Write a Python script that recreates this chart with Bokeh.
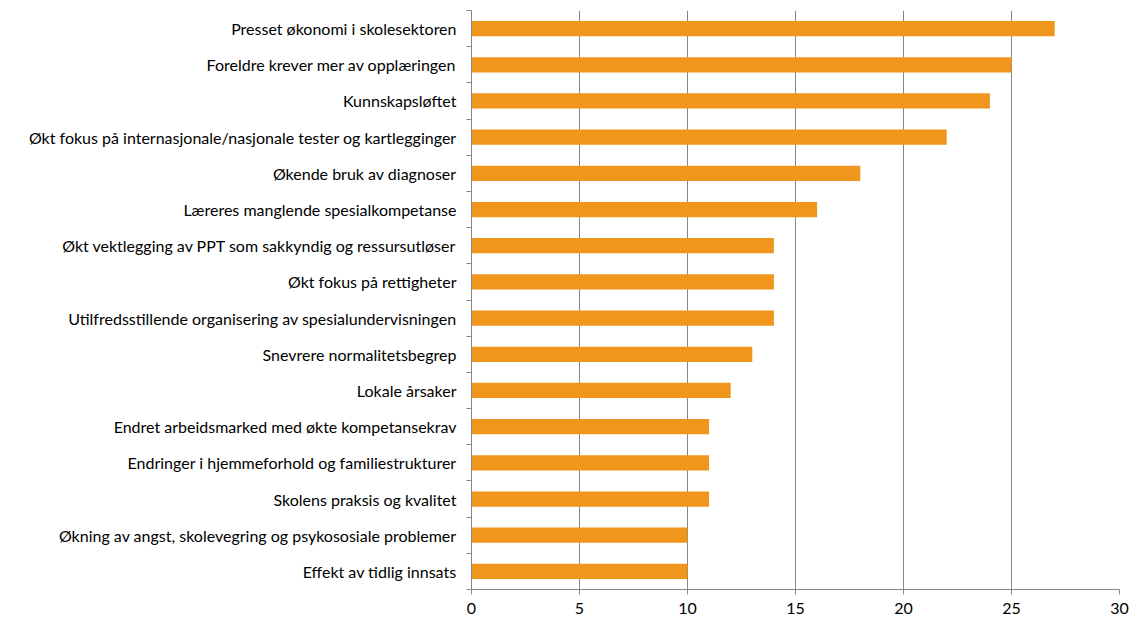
from bokeh.plotting import figure
from bokeh.models import FixedTicker, Range1d
from bokeh.embed import file_html
from bokeh.resources import INLINE

categories = [
    "Presset økonomi i skolesektoren",
    "Foreldre krever mer av opplæringen",
    "Kunnskapsløftet",
    "Økt fokus på internasjonale/nasjonale tester og kartlegginger",
    "Økende bruk av diagnoser",
    "Læreres manglende spesialkompetanse",
    "Økt vektlegging av PPT som sakkyndig og ressursutløser",
    "Økt fokus på rettigheter",
    "Utilfredsstillende organisering av spesialundervisningen",
    "Snevrere normalitetsbegrep",
    "Lokale årsaker",
    "Endret arbeidsmarked med økte kompetansekrav",
    "Endringer i hjemmeforhold og familiestrukturer",
    "Skolens praksis og kvalitet",
    "Økning av angst, skolevegring og psykososiale problemer",
    "Effekt av tidlig innsats",
]
values = [27, 25, 24, 22, 18, 16, 14, 14, 14, 13, 12, 11, 11, 11, 10, 10]
x_ticks = [0, 5, 10, 15, 20, 25, 30]

n = len(categories)
ypos = [n - i for i in range(n)]

p = figure(width=1131, height=620, output_backend="svg", toolbar_location=None,
           x_range=Range1d(0, 30), y_range=Range1d(0.5, n + 0.5),
           min_border_left=471, min_border_right=12, min_border_top=10, min_border_bottom=31)
p.outline_line_color = None
p.background_fill_color = "white"

p.hbar(y=ypos, right=values, left=0, height=0.42, color="#F0961D", line_color=None)

font = "Lato"
# x axis
p.xaxis.ticker = FixedTicker(ticks=x_ticks, minor_ticks=[])
p.xaxis.axis_line_color = "#878787"
p.xaxis.major_tick_line_color = "#878787"
p.xaxis.major_tick_out = 5
p.xaxis.major_tick_in = 0
p.xaxis.major_label_text_font = font
p.xaxis.major_label_text_font_size = "16px"
p.xaxis.major_label_text_color = "#000000"
p.xaxis.major_label_standoff = 8

# y axis
boundaries = [i + 0.5 for i in range(n + 1)]
p.yaxis.ticker = FixedTicker(ticks=ypos, minor_ticks=boundaries)
p.yaxis.major_label_overrides = {y: c for y, c in zip(ypos, categories)}
p.yaxis.major_tick_out = 0
p.yaxis.major_tick_in = 0
p.yaxis.minor_tick_out = 5
p.yaxis.minor_tick_in = 0
p.yaxis.minor_tick_line_color = "#878787"
p.yaxis.axis_line_color = "#878787"
p.yaxis.major_label_text_font = font
p.yaxis.major_label_text_font_size = "16px"
p.yaxis.major_label_text_color = "#000000"
p.yaxis.major_label_standoff = 10

p.xgrid.ticker = FixedTicker(ticks=x_ticks)
p.xgrid.grid_line_color = "#878787"
p.ygrid.grid_line_color = None

open("out.html", "w").write(file_html(p, INLINE))
